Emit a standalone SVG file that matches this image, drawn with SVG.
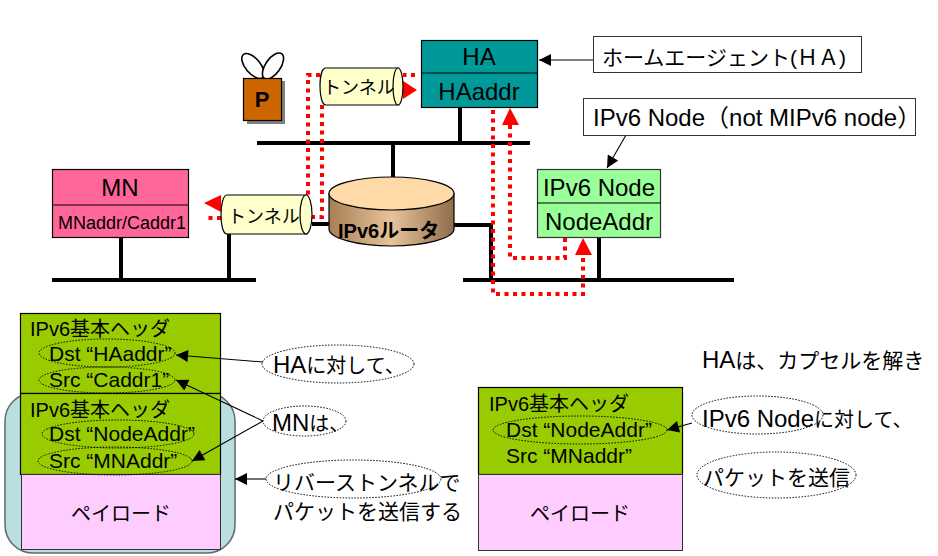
<svg xmlns="http://www.w3.org/2000/svg" width="938" height="556" viewBox="0 0 938 556">
<defs>
<linearGradient id="rg" x1="0" x2="1" y1="0" y2="0"><stop offset="0" stop-color="#a67f55"/><stop offset="0.5" stop-color="#e8c39a"/><stop offset="1" stop-color="#8f6d49"/></linearGradient>
<marker id="ah" viewBox="0 0 10 10" refX="10" refY="5" markerWidth="14" markerHeight="12" markerUnits="userSpaceOnUse" orient="auto"><path d="M0 0L10 5L0 10z" fill="#000"/></marker>
</defs>
<style>
text{font-family:"Liberation Sans","Noto Sans CJK JP",sans-serif;fill:#000}
.t24{font-size:24px}.t21{font-size:21px}.t20{font-size:20px}.t18{font-size:18px}
.m{text-anchor:middle}
.box{stroke:#000;stroke-width:1.2}
.bus{fill:none;stroke:#000;stroke-width:4}
.red{fill:none;stroke:#f00;stroke-width:4;stroke-dasharray:4 4.5}
.tri{fill:#f00}
.ln{fill:none;stroke:#000;stroke-width:1.1}
.ar{fill:none;stroke:#000;stroke-width:1.1;marker-end:url(#ah)}
.dot{fill:none;stroke:#000;stroke-width:1;stroke-dasharray:1.5 1.5}
.cyl{fill:#ffffcc;stroke:#000;stroke-width:1.2}
.call{fill:#fff;stroke:#333;stroke-width:1}
</style>
<rect width="938" height="556" fill="#fff"/>

<g id="stack-left">
<rect x="5" y="393" width="230" height="160" rx="28" fill="#b9dfe3" stroke="#666" stroke-width="1.5"/>
<rect class="box" x="20.500" y="313.500" width="200" height="80" fill="#99cc00"/>
<rect class="box" x="20.500" y="393.500" width="200" height="81" fill="#99cc00"/>
<rect x="21.500" y="474.500" width="199" height="75" fill="#ffccff" stroke="#333"/>
<text class="t20" x="30" y="336">IPv6基本ヘッダ</text>
<ellipse class="dot" cx="107" cy="353" rx="68" ry="14"/>
<text class="t21" x="49" y="361">Dst “HAaddr”</text>
<ellipse class="dot" cx="107" cy="380" rx="68" ry="13"/>
<text class="t21" x="49" y="387">Src “Caddr1”</text>
<text class="t20" x="30" y="417">IPv6基本ヘッダ</text>
<ellipse class="dot" cx="118" cy="434" rx="76" ry="14"/>
<text class="t21" x="49" y="441">Dst “NodeAddr”</text>
<ellipse class="dot" cx="115" cy="461" rx="77" ry="14"/>
<text class="t21" x="49" y="468">Src “MNAddr”</text>
<text class="t20 m" x="121" y="521">ペイロード</text>
</g>

<g id="stack-right">
<rect class="box" x="478.500" y="387.500" width="204" height="87" fill="#99cc00"/>
<rect x="478.500" y="474.500" width="204" height="76" fill="#ffccff" stroke="#333"/>
<text class="t20" x="489" y="411">IPv6基本ヘッダ</text>
<ellipse class="dot" cx="580" cy="430" rx="87" ry="14"/>
<text class="t21" x="506" y="437">Dst “NodeAddr”</text>
<text class="t21" x="506" y="463">Src “MNaddr”</text>
<text class="t20 m" x="580" y="521">ペイロード</text>
</g>

<g id="connectors">
<path class="bus" d="M257 143H530M460 108V143M393 143V178M52 280H256M121 238V280M229 234V280M312 224H330M454 225H491V280M463 280H734M599 238V280"/>
<path class="ar" d="M593 60H539"/>
<path class="ar" d="M626 135L607 168"/>
<path class="ar" d="M263 362L176 355"/>
<path class="ar" d="M263 421L176 380"/>
<path class="ar" d="M263 421L192 461"/>
<path class="ar" d="M266 479H235"/>
<path class="ar" d="M692 423L667 430"/>
</g>

<g id="node-HA">
<rect class="box" x="421.500" y="40.500" width="116" height="67" fill="#009999"/>
<path class="ln" d="M421 73H538"/>
<text class="t24 m" x="479" y="65">HA</text>
<text class="t24 m" x="479" y="100">HAaddr</text>
</g>

<g id="node-P">
<ellipse cx="253" cy="66" rx="7.500" ry="15" fill="#fff" stroke="#000" stroke-width="1.6" transform="rotate(-40 253 66)"/>
<ellipse cx="273" cy="66" rx="7.500" ry="15" fill="#fff" stroke="#000" stroke-width="1.6" transform="rotate(35 273 66)"/>
<rect x="247" y="81" width="38" height="43" fill="#808080"/>
<rect class="box" x="243.500" y="78.500" width="38" height="42" fill="#cc6600"/>
<text class="m" x="262" y="107" font-size="22" font-weight="bold">P</text>
</g>

<g id="node-MN">
<rect class="box" x="52.500" y="169.500" width="136" height="68" fill="#ff6699"/>
<path class="ln" d="M52 205H189"/>
<text class="t24 m" x="120" y="196">MN</text>
<text class="t18 m" x="122" y="229">MNaddr/Caddr1</text>
</g>

<g id="node-IPv6Node">
<rect x="537.500" y="169.500" width="123" height="68" fill="#99ff99" stroke="#333" stroke-width="1.2"/>
<path class="ln" d="M537 203H661"/>
<text class="t24 m" x="599" y="196">IPv6 Node</text>
<text class="t24 m" x="599" y="230">NodeAddr</text>
</g>

<g id="node-router">
<path d="M329 193.500V229C329 238 357 246 391.500 246S454 238 454 229V193.500z" fill="url(#rg)" stroke="#000" stroke-width="1.2"/>
<ellipse cx="391.500" cy="193.500" rx="62.500" ry="16.500" fill="#ffd9a8" stroke="#000" stroke-width="1.2"/>
<text x="338" y="238" font-size="20" font-weight="bold">IPv6ルータ</text>
</g>

<g id="red-paths">
<path class="red" d="M415 75H403M320 75H308V195"/>
<path class="red" d="M322 105V217H312"/>
<path class="red" d="M221 218H205"/>
<path class="red" d="M493 110V294H583V255"/>
<path class="red" d="M510 125V258H565V238"/>
<path class="tri" d="M403 81L417 90L403 99z"/>
<path class="tri" d="M204 203L221 195V212z"/>
<path class="tri" d="M510 108L519 125H502z"/>
<path class="tri" d="M583 238L592 255H575z"/>
</g>

<g id="tunnel-top">
<path class="cyl" d="M398 68H326C322 68 320 76 320 86S322 105 326 105H398z"/>
<ellipse class="cyl" cx="398" cy="86.500" rx="5" ry="18.500"/>
<text class="t18" x="323" y="94">トンネル</text>
</g>

<g id="tunnel-left">
<path class="cyl" d="M307 195H227C223 195 221 205 221 215S223 234 227 234H307z"/>
<ellipse class="cyl" cx="306" cy="214.500" rx="6" ry="19.500"/>
<text class="t18" x="228" y="223">トンネル</text>
</g>

<g id="callout-homeagent">
<rect class="call" x="593.500" y="36.500" width="268" height="36"/>
<text class="t21" x="602" y="65">ホームエージェント(ＨＡ)</text>
</g>
<g id="callout-ipv6node">
<rect class="call" x="583.500" y="98.500" width="332" height="37"/>
<text class="t24" x="593" y="126">IPv6 Node（not MIPv6 node）</text>
</g>

<g id="label-ha">
<ellipse class="dot" cx="338" cy="364" rx="76" ry="19"/>
<text class="t20" x="273" y="373"><tspan class="t24">HA</tspan>に対して、</text>
</g>
<g id="label-mn">
<ellipse class="dot" cx="304.500" cy="421" rx="41.500" ry="15"/>
<text class="t20" x="272" y="431"><tspan class="t24">MN</tspan>は、</text>
</g>
<g id="label-reverse">
<ellipse class="dot" cx="353.500" cy="479" rx="87.500" ry="19"/>
<text class="t21" x="273" y="490">リバーストンネルで</text>
<text class="t21" x="273" y="519">パケットを送信する</text>
</g>
<g id="label-right">
<text class="t21" x="702" y="368"><tspan class="t24">HA</tspan>は、カプセルを解き</text>
<ellipse class="dot" cx="757.500" cy="415" rx="65.500" ry="19"/>
<text class="t20" x="702" y="427"><tspan class="t24">IPv6 Node</tspan>に対して、</text>
<ellipse class="dot" cx="776.500" cy="475" rx="79.500" ry="23"/>
<text class="t21" x="703" y="485">パケットを送信</text>
</g>
</svg>
